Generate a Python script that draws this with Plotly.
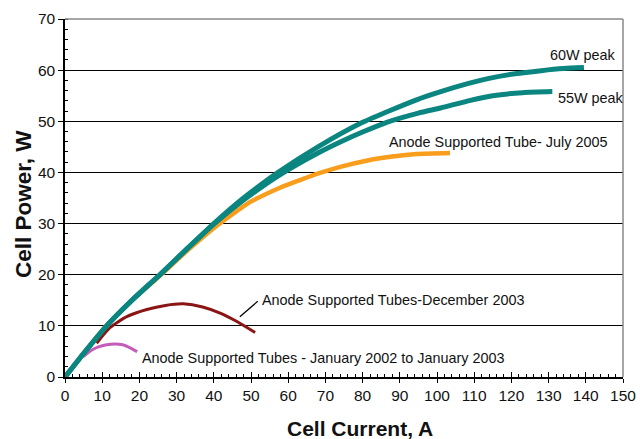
import plotly.graph_objects as go

# ---- data ----
i_60w = [0, 5, 11.2, 18, 25.5, 33, 40, 48, 57.3, 68, 80, 94.5, 101, 108, 114, 121, 128, 134, 139.5]
p_60w = [0, 4.6, 10, 15, 20, 25.2, 30, 35, 40, 45, 49.8, 54.2, 55.8, 57.3, 58.4, 59.3, 59.9, 60.3, 60.5]

i_55w = [0, 5, 11.2, 18, 25.5, 33, 40, 48, 57, 68, 75, 80, 86.5, 95, 101, 109, 115, 123, 131]
p_55w = [0, 4.6, 10, 15, 20, 25.2, 29.9, 34.6, 39.2, 43.8, 46.3, 47.9, 49.8, 51.6, 52.6, 54.1, 55.0, 55.6, 55.8]

i_jul05 = [0, 5, 11.2, 18, 25.5, 33, 40.8, 49.7, 52.4, 57.8, 63.2, 67.7, 74, 81, 88, 94.5, 103.5]
p_jul05 = [0, 4.6, 10, 15, 19.8, 24.8, 29.6, 34.2, 35.2, 37.0, 38.5, 39.7, 41.1, 42.3, 43.1, 43.6, 43.8]

i_dec03 = [8.5, 12, 16.6, 22, 27, 31.8, 37, 41.7, 46.1, 51.1]
p_dec03 = [6.6, 9.6, 11.8, 13.2, 14.0, 14.3, 13.7, 12.5, 10.9, 8.7]

i_jan02 = [4.9, 7, 9, 11.2, 13.4, 15.5, 17.5, 19.4]
p_jan02 = [4.0, 5.2, 5.9, 6.3, 6.45, 6.3, 5.7, 4.95]

x_ticks = list(range(0, 151, 10))
y_ticks = list(range(0, 71, 10))

TEAL = "#0B8580"
ORANGE = "#F99D1C"
MAROON = "#8B1414"
PINK = "#C45CBA"
FONT = "Liberation Sans, Arial, sans-serif"
TXT = "#111111"

fig = go.Figure()

def add(xs, ys, color, width):
    fig.add_trace(go.Scatter(x=xs, y=ys, mode="lines",
                             line=dict(color=color, width=width, shape="spline", smoothing=0.6),
                             showlegend=False, hoverinfo="skip"))

add(i_jan02, p_jan02, PINK, 3)
add(i_dec03, p_dec03, MAROON, 3)
add(i_jul05, p_jul05, ORANGE, 4.5)
add(i_55w, p_55w, TEAL, 5)
add(i_60w, p_60w, TEAL, 5)

ann_font = dict(family=FONT, size=14.4, color=TXT)
annotations = [
    dict(x=129.8, y=63.0, text="60W peak", xanchor="left", yanchor="middle"),
    dict(x=132.0, y=54.6, text="55W peak", xanchor="left", yanchor="middle"),
    dict(x=86.6, y=46.0, text="Anode Supported Tube- July 2005", xanchor="left", yanchor="middle"),
    dict(x=52.4, y=15.1, text="Anode Supported Tubes-December 2003", xanchor="left", yanchor="middle"),
    dict(x=20.2, y=3.7, text="Anode Supported Tubes - January 2002 to January 2003", xanchor="left", yanchor="middle"),
]
for a in annotations:
    fig.add_annotation(xref="x", yref="y", showarrow=False, font=ann_font, **a)

# axis titles
fig.add_annotation(xref="paper", yref="paper", x=(359.7 - 65) / 558, y=0, yshift=-51,
                   xanchor="center", yanchor="middle", showarrow=False,
                   text="<b>Cell Current, A</b>", font=dict(family=FONT, size=21, color=TXT))
fig.add_annotation(xref="paper", yref="paper", x=0, xshift=-41, y=(377 - 204) / 358,
                   xanchor="center", yanchor="middle", showarrow=False, textangle=-90,
                   text="<b>Cell Power, W</b>", font=dict(family=FONT, size=22.5, color=TXT))

# leader line for the December 2003 label
fig.add_shape(type="line", xref="x", yref="y", x0=47.0, y0=11.8, x1=51.8, y1=14.8,
              line=dict(color="black", width=1.3))

# gray frame on top / right
fig.add_shape(type="line", xref="paper", yref="paper", x0=0, y0=1, x1=1, y1=1,
              line=dict(color="#888888", width=1.5), layer="above")
fig.add_shape(type="line", xref="paper", yref="paper", x0=1, y0=0, x1=1, y1=1,
              line=dict(color="#888888", width=1.5), layer="above")

fig.update_layout(
    width=640, height=439,
    margin=dict(l=65, r=17, t=19, b=62, autoexpand=False),
    paper_bgcolor="white", plot_bgcolor="white",
    font=dict(family=FONT, color=TXT),
    xaxis=dict(
        range=[0, 150], tickvals=x_ticks, ticktext=[str(v) for v in x_ticks],
        showgrid=False, zeroline=False, automargin=False,
        showline=True, linecolor="black", linewidth=1.5,
        ticks="outside", ticklen=4, tickwidth=1.3, tickcolor="black",
        tickfont=dict(family=FONT, size=15.5, color=TXT),
    ),
    xaxis2=dict(
        overlaying="x", matches="x", range=[0, 150], side="bottom", automargin=False,
        showticklabels=False, showgrid=False, zeroline=False, showline=False,
        tickvals=x_ticks, ticks="inside", ticklen=5, tickwidth=1.3, tickcolor="black",
        minor=dict(dtick=2, tick0=0, ticks="inside", ticklen=3, tickwidth=1.1, tickcolor="black", showgrid=False),
    ),
    yaxis=dict(
        range=[0, 70], tickvals=y_ticks, ticktext=[str(v) for v in y_ticks],
        showgrid=True, gridcolor="black", gridwidth=1.2, zeroline=False, automargin=False,
        showline=True, linecolor="black", linewidth=1.5,
        ticks="outside", ticklen=5, tickwidth=1.3, tickcolor="black",
        minor=dict(dtick=2, tick0=0, ticks="inside", ticklen=3, tickwidth=1.1, tickcolor="black", showgrid=False),
        tickfont=dict(family=FONT, size=15.5, color=TXT),
    ),
)

# invisible trace to activate the overlay axis carrying inside ticks
fig.add_trace(go.Scatter(x=[0], y=[0], xaxis="x2", mode="markers", marker=dict(opacity=0),
                         showlegend=False, hoverinfo="skip"))

fig.write_html("out.html", config={"displayModeBar": False},
               post_script="document.body.style.margin='0';document.body.style.overflow='hidden';")
